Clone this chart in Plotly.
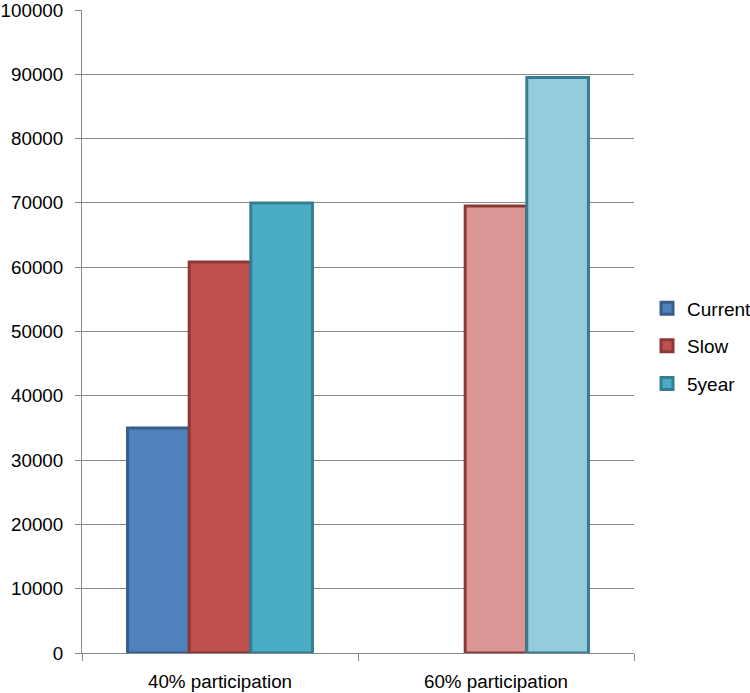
import plotly.graph_objects as go

categories = ["40% participation", "60% participation"]
current = [35000, None]
slow = [60800, 69500]
fiveyear = [70000, 89500]

series = [
    ("Current", current, ["#4F81BD", "#4F81BD"], "#385D8A"),
    ("Slow", slow, ["#C0504D", "#D99694"], "#8C3836"),
    ("5year", fiveyear, ["#4BACC6", "#93CDDD"], "#357D91"),
]

fig = go.Figure()
for name, vals, fills, border in series:
    fig.add_trace(go.Bar(
        name=name, x=categories, y=vals, legendgroup=name,
        marker=dict(color=fills, line=dict(color=border, width=3)),
    ))

fam = "Liberation Sans, Arial, sans-serif"
font = dict(family=fam, size=18.8, color="#000000")
fig.update_layout(
    width=750, height=693,
    margin=dict(l=82, r=116, t=10, b=40, autoexpand=False),
    paper_bgcolor="white", plot_bgcolor="white",
    barmode="group", bargap=0.33, bargroupgap=0,
    font=font,
    showlegend=True,
    legend=dict(x=1.0236, xanchor="left", y=0.477, yanchor="middle",
                font=dict(family=fam, size=19, color="#000000"),
                tracegroupgap=10),
    xaxis=dict(showgrid=False, showline=True, linecolor="#888888", linewidth=1,
               ticks="outside", tickson="boundaries", ticklen=7, tickcolor="#888888",
               tickfont=font, automargin=False, ticklabelstandoff=11),
    yaxis=dict(range=[0, 100000], dtick=10000, showgrid=True, gridcolor="#888888",
               gridwidth=1.3, showline=True, linecolor="#888888", ticks="outside",
               ticklen=6, tickcolor="#888888", tickfont=font, zeroline=False,
               tickformat="d", automargin=False, ticklabelstandoff=8,
               ticklabeloverflow="allow"),
)
fig.write_html("out.html", config={"displayModeBar": False},
               post_script="document.body.style.margin='0';")
